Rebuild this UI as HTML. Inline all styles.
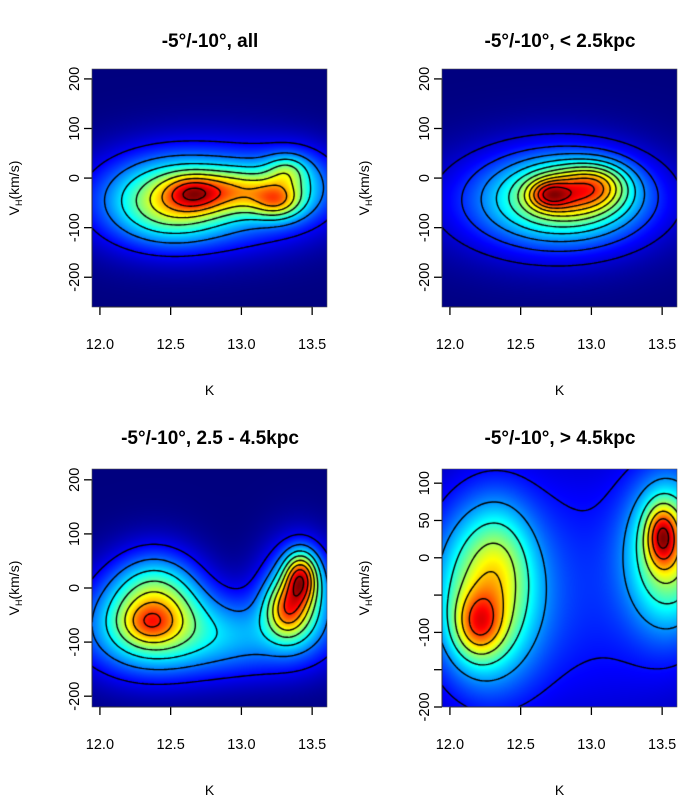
<!DOCTYPE html>
<html><head><meta charset="utf-8">
<style>
body{margin:0;background:#fff;width:700px;height:800px;overflow:hidden;font-family:"Liberation Sans",sans-serif}
#wrap{position:relative;width:700px;height:800px}
canvas{position:absolute}
svg{position:absolute;left:0;top:0}
</style></head><body>
<div id="wrap">
<svg id="ax" width="700" height="800"></svg>
</div>
<script>
// Panel data: gaussian components [K, V, sigmaK, sigmaV, weight]
const titles = ["-5°/-10°, all", "-5°/-10°, < 2.5kpc", "-5°/-10°, 2.5 - 4.5kpc", "-5°/-10°, > 4.5kpc"];
const comp0 = [[12.65,-30,0.13,25,0.8],[13.25,-45,0.12,25,1.0],[13.32,15,0.1,22,0.6],[12.95,-25,0.22,30,0.9],[12.5,-50,0.25,50,0.8],[12.85,-35,0.5,70,1.0],[13.4,-10,0.2,50,0.5],[12.3,-50,0.35,70,0.4]];
const comp1 = [[12.7,-33,0.1,20,1.0],[13.05,-10,0.15,30,0.7],[12.9,-25,0.22,35,0.8],[12.8,-40,0.38,60,1.5],[12.7,-50,0.6,85,0.6]];
const comp2 = [[12.35,-65,0.13,25,0.45],[12.4,-20,0.22,60,0.9],[13.42,20,0.08,32,1.3],[13.32,-40,0.1,35,0.9],[12.8,-90,0.55,55,0.7],[13.4,-10,0.18,65,0.9],[12.25,-60,0.3,70,0.5]];
const comp3 = [[12.9,-40,0.9,150,0.55],[12.25,-50,0.25,80,1.6],[12.35,0,0.15,50,0.4],[12.2,-90,0.12,30,1.2],[13.55,10,0.2,70,1.6],[13.5,30,0.08,28,1.5]];
const comps = [comp0, comp1, comp2, comp3];
const peakValues = [0.0042, 0.0060, 0.0042, 0.0037];
const xTicks = [12.0, 12.5, 13.0, 13.5];
const yTicksTop = [200, 100, 0, -100, -200];
const yTicksBR = [100, 50, 0, -50, -100, -150, -200];
const yLabelsBR = [100, 50, 0, -100, -200];
const levels = [0.0005,0.001,0.0015,0.002,0.0025,0.003,0.0035,0.004,0.0045,0.005,0.0055];

const panels = [
 {x0:92,x1:327,y0:69,y1:307,kmin:11.944,kmax:13.605,vmin:-260,vmax:220,yt:yTicksTop,yl:yTicksTop,title:[210,40],xl:390},
 {x0:442,x1:677,y0:69,y1:307,kmin:11.944,kmax:13.605,vmin:-260,vmax:220,yt:yTicksTop,yl:yTicksTop,title:[560,40],xl:390},
 {x0:92,x1:327,y0:469,y1:707,kmin:11.944,kmax:13.605,vmin:-220,vmax:220,yt:yTicksTop,yl:yTicksTop,title:[210,437],xl:790},
 {x0:442,x1:677,y0:469,y1:707,kmin:11.944,kmax:13.605,vmin:-200,vmax:119,yt:yTicksBR,yl:yLabelsBR,title:[560,437],xl:790}
];
const jet=[[0,0,127],[0,0,255],[0,127,255],[0,255,255],[127,255,127],[255,255,0],[255,127,0],[255,0,0],[127,0,0]];
function jetc(t){t=Math.max(0,Math.min(1,t))*8;const i=Math.min(7,Math.floor(t)),f=t-i;return jet[i].map((a,j)=>a+(jet[i+1][j]-a)*f);}
const svg=document.getElementById('ax');const NS="http://www.w3.org/2000/svg";
function el(t,a,txt){const e=document.createElementNS(NS,t);for(const k in a)e.setAttribute(k,a[k]);if(txt!=null)e.textContent=txt;svg.appendChild(e);return e;}
const wrap=document.getElementById('wrap');
panels.forEach((p,pi)=>{
 const W=p.x1-p.x0,H=p.y1-p.y0;
 const sx=k=>p.x0+(k-p.kmin)/(p.kmax-p.kmin)*W;
 const sy=v=>p.y1-(v-p.vmin)/(p.vmax-p.vmin)*H;
 const cs=comps[pi];
 const f=(k,v)=>{let s=0;for(const c of cs){const a=(k-c[0])/c[2],b=(v-c[1])/c[3];s+=c[4]*Math.exp(-0.5*(a*a+b*b));}return s;};
 const step=2,nx=Math.ceil(W/step)+1,ny=Math.ceil(H/step)+1;
 const g=[];let mx=0;
 for(let j=0;j<ny;j++){g.push([]);for(let i=0;i<nx;i++){const k=p.kmin+(i*step)/W*(p.kmax-p.kmin),v=p.vmax-(j*step)/H*(p.vmax-p.vmin);const d=f(k,v);g[j].push(d);if(d>mx)mx=d;}}
 const sc=peakValues[pi]/mx;
 for(const r of g)for(let i=0;i<r.length;i++)r[i]*=sc;
 const cv=document.createElement('canvas');cv.width=W;cv.height=H;cv.style.left=p.x0+'px';cv.style.top=p.y0+'px';
 
 
 wrap.insertBefore(cv,svg);
 const ctx=cv.getContext('2d');const img=ctx.createImageData(W,H);
 for(let y=0;y<H;y++)for(let x=0;x<W;x++){
  const gx=x/step,gy=y/step,i=Math.floor(gx),j=Math.floor(gy),fx=gx-i,fy=gy-j;
  const i1=Math.min(i+1,nx-1),j1=Math.min(j+1,ny-1);
  const d=(g[j][i]*(1-fx)+g[j][i1]*fx)*(1-fy)+(g[j1][i]*(1-fx)+g[j1][i1]*fx)*fy;
  const c=jetc(d/peakValues[pi]);const o=(y*W+x)*4;img.data[o]=c[0];img.data[o+1]=c[1];img.data[o+2]=c[2];img.data[o+3]=255;}
 ctx.putImageData(img,0,0);
 ctx.strokeStyle='#000';ctx.lineWidth=1.4;
 for(const L of levels){ if(L>=peakValues[pi])continue;
  ctx.beginPath();
  for(let j=0;j<ny-1;j++)for(let i=0;i<nx-1;i++){
   const a=g[j][i],b=g[j][i+1],c=g[j+1][i+1],d=g[j+1][i];
   const pts=[];
   const e=(v1,v2,x1,y1,x2,y2)=>{const t=(L-v1)/(v2-v1);pts.push([(x1+(x2-x1)*t)*step,(y1+(y2-y1)*t)*step]);};
   if((a>L)!=(b>L))e(a,b,i,j,i+1,j);
   if((b>L)!=(c>L))e(b,c,i+1,j,i+1,j+1);
   if((c>L)!=(d>L))e(c,d,i+1,j+1,i,j+1);
   if((d>L)!=(a>L))e(d,a,i,j+1,i,j);
   for(let q=0;q+1<pts.length;q+=2){ctx.moveTo(pts[q][0],pts[q][1]);ctx.lineTo(pts[q+1][0],pts[q+1][1]);}
  }
  ctx.stroke();
 }
 el('line',{x1:sx(xTicks[0]),x2:sx(xTicks[xTicks.length-1]),y1:p.y1,y2:p.y1,stroke:'#000'});
 xTicks.forEach(t=>{el('line',{x1:sx(t),x2:sx(t),y1:p.y1,y2:p.y1+8,stroke:'#000','stroke-width':1.3});
  const tx=el('text',{x:sx(t),y:p.y1+42,'font-size':14.5,'text-anchor':'middle'},t.toFixed(1));
  });
 el('line',{x1:p.x0,x2:p.x0,y1:sy(p.yt[0]),y2:sy(p.yt[p.yt.length-1]),stroke:'#000'});
 p.yt.forEach(t=>{el('line',{x1:p.x0,x2:p.x0-8,y1:sy(t),y2:sy(t),stroke:'#000','stroke-width':1.3});});
 p.yl.forEach(t=>{const tx=el('text',{x:0,y:0,'font-size':14.5,'text-anchor':'middle',transform:`translate(${p.x0-13},${sy(t)}) rotate(-90)`},String(t));
  });
 el('rect',{x:p.x0,y:p.y0,width:W,height:H,fill:'none',stroke:'#555','stroke-width':0.6});
 const tt=el('text',{x:p.title[0],y:p.title[1]+7,'font-size':19,'font-weight':'bold','text-anchor':'middle'},titles[pi]);
 
 const xl=el('text',{x:(p.x0+p.x1)/2,y:p.xl+5,'font-size':14,'text-anchor':'middle'},'K');
 
 const yl=el('text',{x:0,y:0,'font-size':14,'text-anchor':'middle',transform:`translate(${p.x0-73},${(p.y0+p.y1)/2}) rotate(-90)`});
 
 yl.innerHTML='V<tspan font-size="9" dy="3">H</tspan><tspan dy="-3">(km/s)</tspan>';
});
</script>
</body></html>
